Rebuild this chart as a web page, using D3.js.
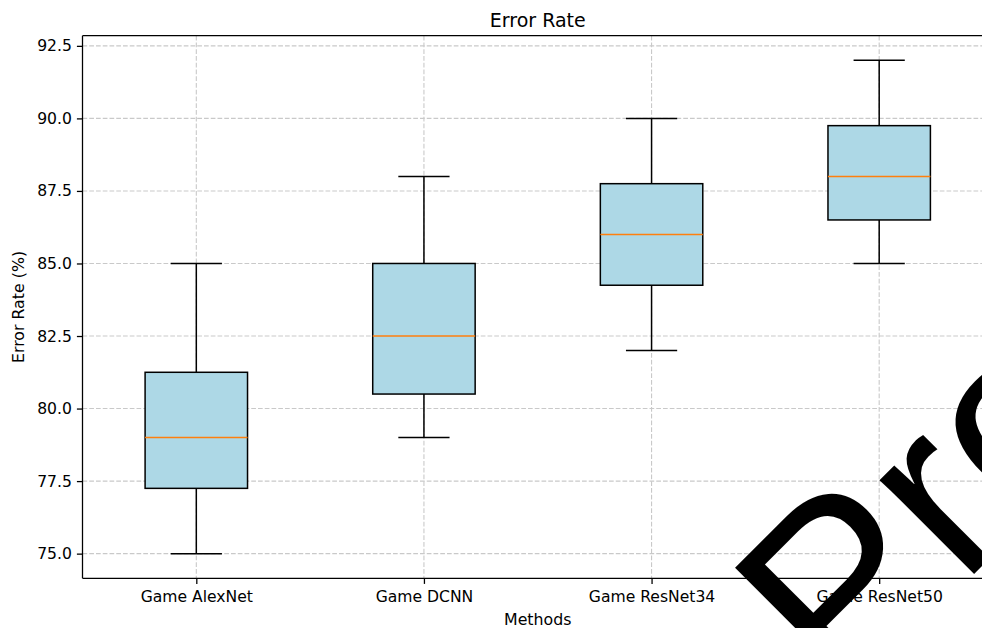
<!DOCTYPE html>
<html>
<head>
<meta charset="utf-8">
<script src="https://cdn.jsdelivr.net/npm/d3@7"></script>
<style>
  html, body { margin: 0; padding: 0; background: #fff; }
  svg { display: block; font-family: "DejaVu Sans", sans-serif; }
</style>
</head>
<body>
<svg id="chart" width="982" height="628"></svg>
<script>
const categories = ["Game AlexNet", "Game DCNN", "Game ResNet34", "Game ResNet50"];
const whiskerLow  = [75, 79, 82, 85];
const q1          = [77.25, 80.5, 84.25, 86.5];
const median      = [79, 82.5, 86, 88];
const q3          = [81.25, 85, 87.75, 89.75];
const whiskerHigh = [85, 88, 90, 92];
const yTicks = [75, 77.5, 80, 82.5, 85, 87.5, 90, 92.5];
const titleText = "Error Rate";
const xLabel = "Methods";
const yLabel = "Error Rate (%)";
const watermark = "Pro";

const svg = d3.select("#chart");
const pLeft = 82.5, pRight = 993, pTop = 35.7, pBottom = 578.3;

const x = d3.scalePoint().domain(categories).range([pLeft, pRight]).padding(0.5);
const y = d3.scaleLinear().domain([74.15, 92.85]).range([pBottom, pTop]);
const step = x.step();
const boxW = 0.45 * step;
const capW = boxW / 2;

const data = categories.map((c, i) => ({
  c, lo: whiskerLow[i], q1: q1[i], med: median[i], q3: q3[i], hi: whiskerHigh[i]
}));

// grid
const gridColor = "#c9c9c9";
const dash = "4.7,2.05";
svg.append("g").selectAll("line").data(yTicks).join("line")
  .attr("x1", pLeft).attr("x2", pRight)
  .attr("y1", d => y(d)).attr("y2", d => y(d))
  .attr("stroke", gridColor).attr("stroke-width", 1.1).attr("stroke-dasharray", dash);
svg.append("g").selectAll("line").data(categories).join("line")
  .attr("x1", d => x(d)).attr("x2", d => x(d))
  .attr("y1", pTop).attr("y2", pBottom)
  .attr("stroke", gridColor).attr("stroke-width", 1.1).attr("stroke-dasharray", dash);

// boxes
const g = svg.append("g");
const lw = 1.5;
const b = g.selectAll("g.box").data(data).join("g").attr("class", "box");
b.append("line").attr("x1", d => x(d.c)).attr("x2", d => x(d.c))
  .attr("y1", d => y(d.q1)).attr("y2", d => y(d.lo)).attr("stroke", "#000").attr("stroke-width", lw);
b.append("line").attr("x1", d => x(d.c)).attr("x2", d => x(d.c))
  .attr("y1", d => y(d.q3)).attr("y2", d => y(d.hi)).attr("stroke", "#000").attr("stroke-width", lw);
b.append("line").attr("x1", d => x(d.c) - capW / 2).attr("x2", d => x(d.c) + capW / 2)
  .attr("y1", d => y(d.lo)).attr("y2", d => y(d.lo)).attr("stroke", "#000").attr("stroke-width", lw);
b.append("line").attr("x1", d => x(d.c) - capW / 2).attr("x2", d => x(d.c) + capW / 2)
  .attr("y1", d => y(d.hi)).attr("y2", d => y(d.hi)).attr("stroke", "#000").attr("stroke-width", lw);
b.append("rect").attr("x", d => x(d.c) - boxW / 2).attr("width", boxW)
  .attr("y", d => y(d.q3)).attr("height", d => y(d.q1) - y(d.q3))
  .attr("fill", "#add8e6").attr("stroke", "#000").attr("stroke-width", lw);
b.append("line").attr("x1", d => x(d.c) - boxW / 2).attr("x2", d => x(d.c) + boxW / 2)
  .attr("y1", d => y(d.med)).attr("y2", d => y(d.med)).attr("stroke", "#ff7f0e").attr("stroke-width", lw);

// axes
const yAxis = svg.append("g").attr("transform", `translate(${pLeft},0)`)
  .call(d3.axisLeft(y).tickValues(yTicks).tickFormat(d3.format(".1f")).tickSize(5.6).tickPadding(5));
const xAxis = svg.append("g").attr("transform", `translate(0,${pBottom})`)
  .call(d3.axisBottom(x).tickSize(5.6).tickPadding(5));
[yAxis, xAxis].forEach(a => {
  a.select(".domain").remove();
  a.selectAll(".tick line").attr("stroke", "#000").attr("stroke-width", 1.28);
  a.selectAll(".tick text").attr("fill", "#000").style("font-size", "15.6px").style("font-family", "DejaVu Sans");
});
xAxis.selectAll(".tick text").attr("dy", null).attr("y", 23.5);

// spines
svg.append("line").attr("x1", pLeft).attr("x2", pLeft).attr("y1", pTop).attr("y2", pBottom)
  .attr("stroke", "#000").attr("stroke-width", 1.28);
svg.append("line").attr("x1", pLeft).attr("x2", pRight).attr("y1", pBottom).attr("y2", pBottom)
  .attr("stroke", "#000").attr("stroke-width", 1.28);
svg.append("line").attr("x1", pLeft).attr("x2", pRight).attr("y1", pTop).attr("y2", pTop)
  .attr("stroke", "#000").attr("stroke-width", 1.28);

// labels
svg.append("text").attr("x", (pLeft + pRight) / 2).attr("y", 26.5).attr("text-anchor", "middle")
  .style("font-size", "19px").attr("fill", "#000").text(titleText);
svg.append("text").attr("x", (pLeft + pRight) / 2).attr("y", 625).attr("text-anchor", "middle")
  .style("font-size", "15.8px").attr("fill", "#000").text(xLabel);
svg.append("text").attr("transform", `translate(23.5,${(pTop + pBottom) / 2}) rotate(-90)`)
  .attr("text-anchor", "middle").style("font-size", "15.8px").attr("fill", "#000").text(yLabel);

// watermark
svg.append("text").attr("transform", "translate(843,705) rotate(-45)")
  .style("font-family", "'Liberation Sans', Arial, sans-serif")
  .style("font-size", "252px").attr("fill", "#000").text(watermark);
</script>
</body>
</html>
